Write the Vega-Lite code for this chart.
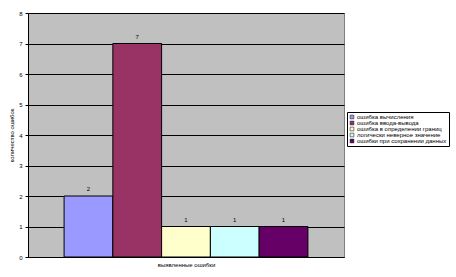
{
  "$schema": "https://vega.github.io/schema/vega-lite/v6.json",
  "autosize": "none",
  "width": 316,
  "height": 244,
  "padding": {"left": 28, "top": 13, "right": 112, "bottom": 20},
  "background": "white",
  "config": {
    "font": "Liberation Sans",
    "view": {"fill": "#C0C0C0", "stroke": "#808080", "strokeWidth": 1}
  },
  "data": {
    "values": [
      {"type": "ошибка вычисления", "count": 2},
      {"type": "ошибка ввода-вывода", "count": 7},
      {"type": "ошибка в определении границ", "count": 1},
      {"type": "логически неверное значение", "count": 1},
      {"type": "ошибки при сохранении данных", "count": 1}
    ]
  },
  "encoding": {
    "x": {
      "field": "type",
      "type": "nominal",
      "sort": null,
      "scale": {"paddingInner": 0, "paddingOuter": 0.74},
      "axis": {
        "title": "выявленные ошибки",
        "labels": false,
        "ticks": false,
        "domainColor": "black",
        "titleFontSize": 6,
        "titleFontWeight": "normal",
        "titlePadding": 4,
        "titleColor": "black"
      }
    },
    "y": {
      "field": "count",
      "type": "quantitative",
      "scale": {"domain": [0, 8], "nice": false},
      "axis": {
        "title": "количество ошибок",
        "values": [0, 1, 2, 3, 4, 5, 6, 7, 8],
        "labelOverlap": false,
        "gridColor": "black",
        "gridOpacity": 1,
        "domainColor": "black",
        "tickColor": "black",
        "tickSize": 3,
        "labelFontSize": 6,
        "labelColor": "black",
        "labelPadding": 3,
        "titleFontSize": 6,
        "titleFontWeight": "normal",
        "titleColor": "black",
        "titlePadding": 4
      }
    }
  },
  "layer": [
    {
      "mark": {"type": "bar", "stroke": "black", "strokeWidth": 1, "width": {"band": 1}},
      "encoding": {
        "color": {
          "field": "type",
          "type": "nominal",
          "sort": null,
          "scale": {"range": ["#9999FF", "#993366", "#FFFFCC", "#CCFFFF", "#660066"]},
          "legend": {
            "title": null,
            "orient": "none",
            "legendX": 319,
            "legendY": 99,
            "direction": "vertical",
            "symbolType": "square",
            "symbolSize": 14,
            "symbolStrokeColor": "black",
            "symbolStrokeWidth": 0.5,
            "symbolOpacity": 1,
            "labelFontSize": 6,
            "labelColor": "black",
            "labelOffset": 2,
            "rowPadding": 0,
            "padding": 2,
            "strokeColor": "black",
            "fillColor": "white"
          }
        }
      }
    },
    {
      "mark": {"type": "text", "baseline": "bottom", "dy": -4, "fontSize": 6, "color": "black"},
      "encoding": {"text": {"field": "count", "type": "quantitative"}}
    }
  ]
}
